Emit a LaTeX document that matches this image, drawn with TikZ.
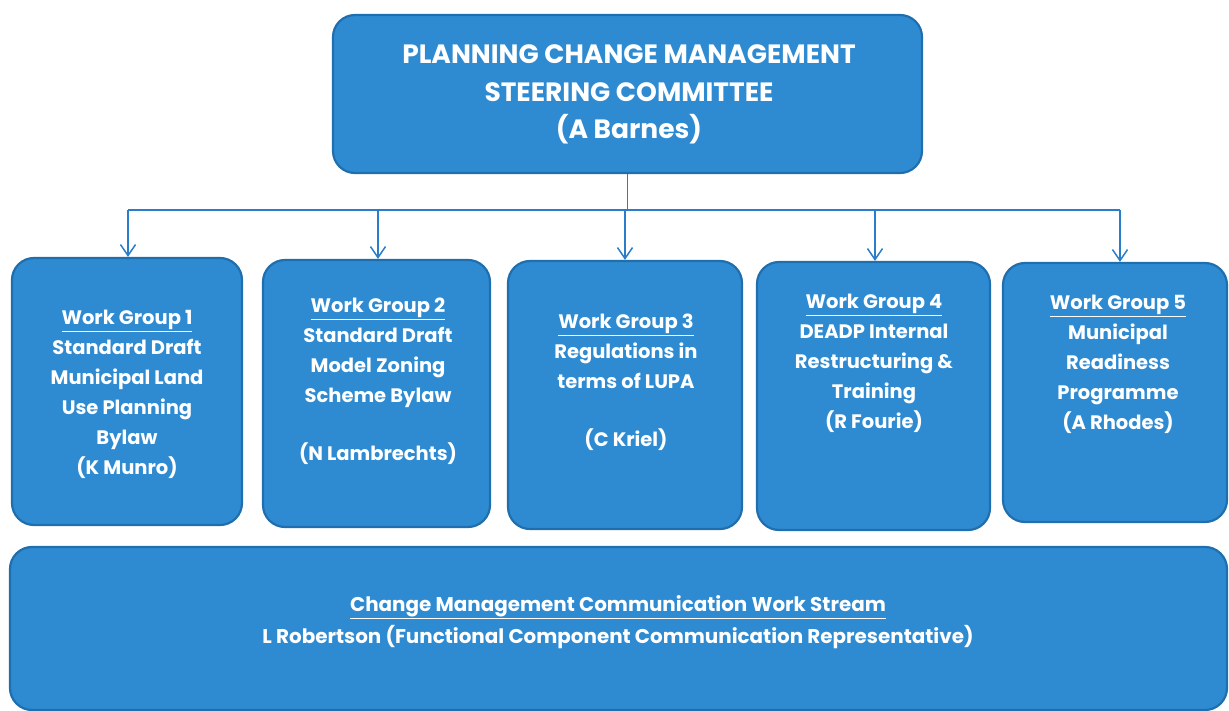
\documentclass[tikz,border=0pt]{standalone}
\usepackage{fontspec}
\setmainfont{Poppins}
\usetikzlibrary{arrows.meta}
\definecolor{boxfill}{HTML}{2E8BD2}
\definecolor{boxline}{HTML}{1F6EAE}
\definecolor{linecol}{HTML}{2A7DC9}
\tikzset{
  box/.style={draw=boxline, line width=2.2pt, fill=boxfill, rounded corners=22pt, inner sep=0pt},
  txt/.style={text=white, align=center, anchor=north, inner sep=0pt, font=\fontsize{19.5}{30}\selectfont\bfseries},
  toptxt/.style={text=white, align=center, anchor=north, inner sep=0pt, font=\fontsize{26.5}{37.5}\selectfont\bfseries},
  conn/.style={draw=linecol, line width=1.8pt},
  arr/.style={conn, -{Straight Barb[length=11pt,width=15pt,line width=1.5pt]}}
}
\begin{document}
\begin{tikzpicture}[x=1pt,y=-1pt]
\useasboundingbox (0,0) rectangle (1229,711);
\node[box, minimum width=589pt, minimum height=158pt] (top) at (627.5,94) {};
\node[box, minimum width=230pt, minimum height=267pt] (wg1) at (127,391.5) {};
\node[box, minimum width=227pt, minimum height=267pt] (wg2) at (376.5,393.5) {};
\node[box, minimum width=234pt, minimum height=268pt] (wg3) at (625,395) {};
\node[box, minimum width=233pt, minimum height=268pt] (wg4) at (873.5,396) {};
\node[box, minimum width=224pt, minimum height=259pt] (wg5) at (1115,392.5) {};
\node[box, minimum width=1217pt, minimum height=163pt] (cm) at (618.5,628.5) {};

\node[toptxt] (toptext) at (629,44.5) {PLANNING CHANGE MANAGEMENT\\STEERING COMMITTEE\\(A Barnes)};
\node[txt] (t1) at (127,310) {\underline{Work Group 1}\\Standard Draft\\Municipal Land\\Use Planning\\Bylaw\\(K Munro)};
\node[txt] (t2) at (378,298) {\underline{Work Group 2}\\Standard Draft\\Model Zoning\\Scheme Bylaw\\[28pt](N Lambrechts)};
\node[txt] (t3) at (626,314) {\underline{Work Group 3}\\Regulations in\\terms of LUPA\\[28pt](C Kriel)};
\node[txt] (t4) at (874,294) {\underline{Work Group 4}\\DEADP Internal\\Restructuring \&\\Training\\(R Fourie)};
\node[txt] (t5) at (1118,295) {\underline{Work Group 5}\\Municipal\\Readiness\\Programme\\(A Rhodes)};
\node[txt, font=\fontsize{19.9}{32}\selectfont\bfseries] (t6) at (618,595) {\underline{Change Management Communication Work Stream}\\L Robertson (Functional Component Communication Representative)};

\coordinate (bus) at (628,210);
\draw[conn] (top.south) -- (top.south |- bus);
\draw[conn] ([xshift=1pt]wg1.north |- bus) -- ([xshift=5pt]wg5.north |- bus);
\draw[arr] ([xshift=1pt]wg1.north |- bus) -- ([xshift=1pt]wg1.north);
\draw[arr] ([xshift=1.5pt]wg2.north |- bus) -- ([xshift=1.5pt]wg2.north);
\draw[arr] (wg3.north |- bus) -- (wg3.north);
\draw[arr] ([xshift=1.5pt]wg4.north |- bus) -- ([xshift=1.5pt]wg4.north);
\draw[arr] ([xshift=5pt]wg5.north |- bus) -- ([xshift=5pt]wg5.north);
\end{tikzpicture}
\end{document}
